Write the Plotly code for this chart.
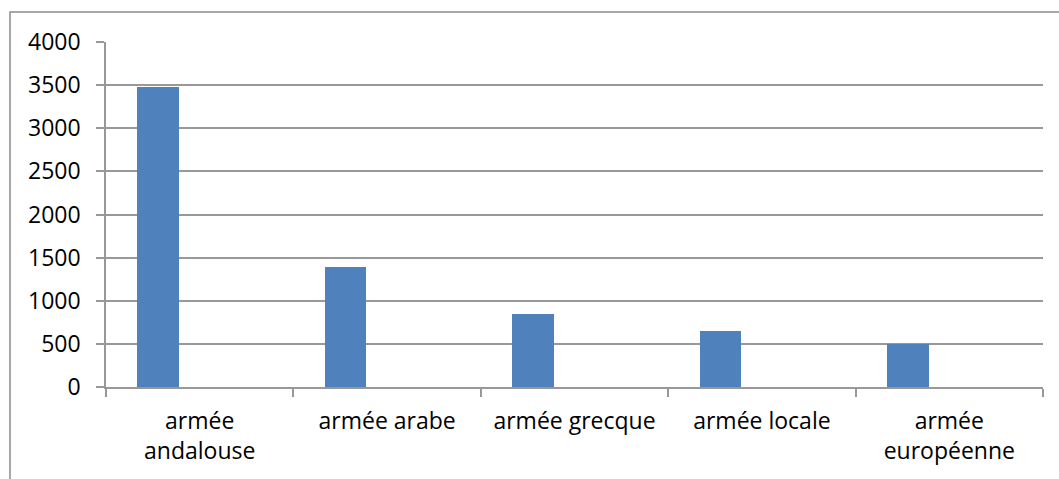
import plotly.graph_objects as go

# Effectifs par armée
categories = ["armée andalouse", "armée arabe", "armée grecque", "armée locale", "armée européenne"]
tick_labels = ["armée<br>andalouse", "armée arabe", "armée grecque", "armée locale", "armée<br>européenne"]
values = [3480, 1390, 850, 650, 500]
y_ticks = [0, 500, 1000, 1500, 2000, 2500, 3000, 3500, 4000]

W, H = 1059, 479
L, R, T, B = 106, 16, 42, 92
plot_w = W - L - R
plot_h = H - T - B

font = dict(family="Open Sans", size=23, color="#000000")
axis_gray = "#989898"

fig = go.Figure()
fig.add_trace(go.Bar(
    x=categories,
    y=values,
    width=0.222,
    offset=-0.333,
    marker=dict(color="#4f81bd", line=dict(width=0)),
    hoverinfo="x+y",
))

# outer chart frame (runs past the right and bottom edges of the page)
def px_to_paper_x(px):
    return (px - L) / plot_w

def px_to_paper_y(py):
    return (H - B - py) / plot_h

fig.add_shape(
    type="rect", xref="paper", yref="paper",
    x0=px_to_paper_x(10), x1=px_to_paper_x(W + 10),
    y0=px_to_paper_y(H + 10), y1=px_to_paper_y(12),
    line=dict(color="#8c8c8c", width=1.5), fillcolor="rgba(0,0,0,0)",
    layer="below",
)

fig.update_layout(
    width=W, height=H,
    margin=dict(l=L, r=R, t=T, b=B, pad=0),
    paper_bgcolor="white", plot_bgcolor="white",
    font=font,
    showlegend=False,
    bargap=0,
    xaxis=dict(
        type="category",
        tickmode="array", tickvals=categories, ticktext=tick_labels,
        range=[-0.5, 4.5],
        tickson="boundaries",
        ticks="outside", ticklen=8, tickwidth=1.5, tickcolor=axis_gray,
        showline=True, linecolor=axis_gray, linewidth=1.5,
        showgrid=False, zeroline=False,
        tickfont=font,
        ticklabelstandoff=13,
    ),
    yaxis=dict(
        range=[0, 4000],
        tickmode="array", tickvals=y_ticks,
        ticks="outside", ticklen=8, tickwidth=1.5, tickcolor=axis_gray,
        showline=True, linecolor=axis_gray, linewidth=1.5,
        showgrid=True, gridcolor=axis_gray, gridwidth=1.5,
        zeroline=False,
        tickfont=font,
        ticklabelstandoff=11,
    ),
)

fig.write_html("out.html")
